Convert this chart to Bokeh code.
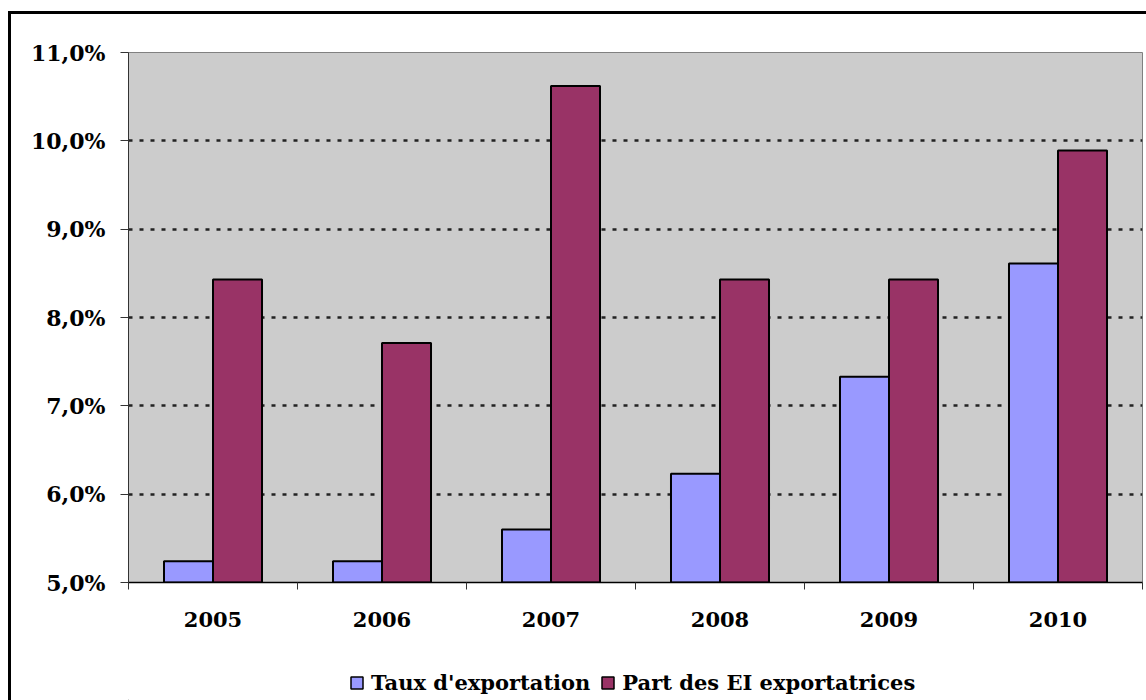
import numpy as np
from bokeh.plotting import figure
from bokeh.layouts import column
from bokeh.models import Range1d, FixedTicker, Legend, LegendItem, ColumnDataSource
from bokeh.embed import file_html
from bokeh.resources import INLINE

# ---- data ----
years = ["2005", "2006", "2007", "2008", "2009", "2010"]
taux_export = [5.24, 5.24, 5.60, 6.23, 7.33, 8.61]
part_ei = [8.43, 7.71, 10.62, 8.43, 8.43, 9.89]
y_ticks = [5, 6, 7, 8, 9, 10, 11]
y_labels = ["5,0%", "6,0%", "7,0%", "8,0%", "9,0%", "10,0%", "11,0%"]
series_names = ["Taux d'exportation", "Part des EI exportatrices"]
colors = ["#9999FF", "#993366"]

FONT = "DejaVu Serif"
BAR_W = 0.29
W = 1135

idx = np.arange(len(years))
src_a = ColumnDataSource(dict(x=idx + 0.5 - BAR_W / 2, top=taux_export))
src_b = ColumnDataSource(dict(x=idx + 0.5 + BAR_W / 2, top=part_ei))

p = figure(width=W, height=640, output_backend="svg", toolbar_location=None,
           x_range=Range1d(0, len(years)), y_range=Range1d(y_ticks[0], y_ticks[-1]),
           min_border_left=117, min_border_right=4, min_border_top=38, min_border_bottom=72)

p.background_fill_color = "#CCCCCC"
p.border_fill_color = "white"
p.outline_line_color = "#808080"
p.outline_line_width = 1

p.vbar(x="x", top="top", bottom=y_ticks[0], width=BAR_W, source=src_a,
       fill_color=colors[0], line_color="black", line_width=2)
p.vbar(x="x", top="top", bottom=y_ticks[0], width=BAR_W, source=src_b,
       fill_color=colors[1], line_color="black", line_width=2)

# y axis
p.yaxis.ticker = FixedTicker(ticks=y_ticks)
p.yaxis.major_label_overrides = {t: l for t, l in zip(y_ticks, y_labels)}
p.yaxis.major_label_text_font = FONT
p.yaxis.major_label_text_font_style = "bold"
p.yaxis.major_label_text_font_size = "22px"
p.yaxis.major_label_text_color = "black"
p.yaxis.major_label_standoff = 15
p.yaxis.axis_line_color = "#333333"
p.yaxis.major_tick_line_color = "#333333"
p.yaxis.major_tick_out = 8
p.yaxis.major_tick_in = 0
p.yaxis.minor_tick_line_color = None

# x axis
centers = list(idx + 0.5)
p.xaxis.ticker = FixedTicker(ticks=centers, minor_ticks=list(range(len(years) + 1)))
p.xaxis.major_label_overrides = {c: y for c, y in zip(centers, years)}
p.xaxis.major_label_text_font = FONT
p.xaxis.major_label_text_font_style = "bold"
p.xaxis.major_label_text_font_size = "21px"
p.xaxis.major_label_text_color = "black"
p.xaxis.major_tick_out = 0
p.xaxis.major_tick_in = 0
p.xaxis.major_label_standoff = 22
p.xaxis.minor_tick_out = 7
p.xaxis.minor_tick_in = 0
p.xaxis.minor_tick_line_color = "#333333"
p.xaxis.axis_line_color = "black"
p.xaxis.axis_line_width = 1.5

# grid
p.xgrid.grid_line_color = None
p.ygrid.grid_line_color = "#222222"
p.ygrid.grid_line_width = 2.5
p.ygrid.grid_line_dash = "4 7"

# ---- legend strip ----
p2 = figure(width=W, height=46, output_backend="svg", toolbar_location=None,
            x_range=Range1d(0, 1), y_range=Range1d(0, 1),
            x_axis_type=None, y_axis_type=None,
            min_border_left=0, min_border_right=0, min_border_top=0, min_border_bottom=0)
p2.outline_line_color = None
p2.background_fill_color = "white"
p2.border_fill_color = "white"
p2.grid.grid_line_color = None
# legend proxies kept outside the visible range
g1 = p2.vbar(x=[-10], top=[-10], width=0.1, fill_color=colors[0], line_color="black", line_width=1.5)
g2 = p2.vbar(x=[-10], top=[-10], width=0.1, fill_color=colors[1], line_color="black", line_width=1.5)
legend = Legend(items=[LegendItem(label=series_names[0], renderers=[g1]),
                       LegendItem(label=series_names[1], renderers=[g2])],
                location=(221, 5), orientation="horizontal",
                glyph_width=15, glyph_height=15, label_standoff=7, spacing=10,
                padding=0, margin=0, label_height=21,
                label_text_font=FONT, label_text_font_style="bold",
                label_text_font_size="21px", label_text_color="black",
                border_line_color=None, background_fill_alpha=0)
p2.add_layout(legend, "center")

layout = column(p, p2, spacing=0,
                styles={"border-left": "3px solid black", "border-top": "3px solid black",
                        "margin-top": "11px", "margin-left": "8px"})

open("out.html", "w").write(file_html(layout, INLINE))
